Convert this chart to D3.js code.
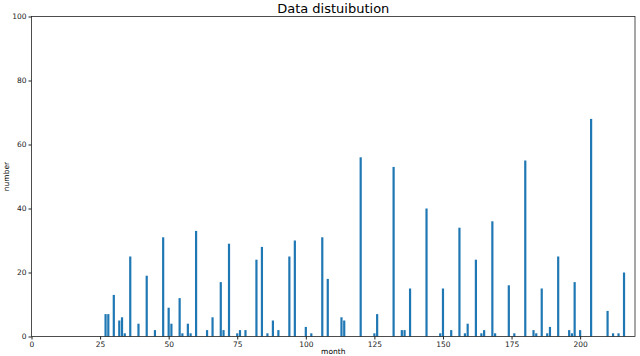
<!DOCTYPE html>
<html lang="en">
<head>
    <meta charset="UTF-8">
    <title>Data distuibution</title>
    <script src="https://d3js.org/d3.v7.min.js"></script>
    <style>
        body { margin: 0; background: #fff; font-family: "DejaVu Sans", sans-serif; }
        .axis text { font-size: 7.5px; fill: #222; font-family: "DejaVu Sans", sans-serif; }
        .axis path, .axis line { stroke: #222; }
    </style>
</head>
<body>
    <svg id="chart" width="640" height="356"></svg>
    <script>
        // bar data
        const months = [27, 28, 30, 32, 33, 34, 36, 39, 42, 45, 48, 50, 51, 54, 55, 57, 58, 60, 64, 66,
            69, 70, 72, 75, 76, 78, 82, 84, 86, 88, 90, 94, 96, 100, 102, 106, 108, 113, 114, 120,
            125, 126, 132, 135, 136, 138, 144, 149, 150, 153, 156, 158, 159, 162, 164, 165, 168, 169, 174, 176,
            180, 183, 184, 186, 188, 189, 192, 196, 197, 198, 200, 204, 210, 212, 214, 216];
        const counts = [7, 7, 13, 5, 6, 1, 25, 4, 19, 2, 31, 9, 4, 12, 1, 4, 1, 33, 2, 6,
            17, 2, 29, 1, 2, 2, 24, 28, 1, 5, 2, 25, 30, 3, 1, 31, 18, 6, 5, 56,
            1, 7, 53, 2, 2, 15, 40, 1, 15, 2, 34, 1, 4, 24, 1, 2, 36, 1, 16, 1,
            55, 2, 1, 15, 1, 3, 25, 2, 1, 17, 2, 68, 8, 1, 1, 20];
        const xTicks = [0, 25, 50, 75, 100, 125, 150, 175, 200];
        const yTicks = [0, 20, 40, 60, 80, 100];

        const margin = { top: 16.5, right: 5, bottom: 19.5, left: 31.5 };
        const width = 640 - margin.left - margin.right;
        const height = 356 - margin.top - margin.bottom;

        const data = months.map((m, i) => ({ month: m, count: counts[i] }));

        const svg = d3.select("#chart");
        const g = svg.append("g")
            .attr("transform", `translate(${margin.left},${margin.top})`);

        const x = d3.scaleLinear().domain([0, 220]).range([0, width]);
        const y = d3.scaleLinear().domain([0, 100]).range([height, 0]);
        const barW = x(0.8) - x(0);

        // barres
        g.selectAll(".bar")
            .data(data)
            .join("rect")
            .attr("class", "bar")
            .attr("x", d => x(d.month) - barW / 2)
            .attr("y", d => y(d.count))
            .attr("width", barW)
            .attr("height", d => y(0) - y(d.count))
            .attr("fill", "#1f77b4");

        // axes
        g.append("g")
            .attr("class", "axis")
            .attr("transform", `translate(0,${height})`)
            .call(d3.axisBottom(x).tickValues(xTicks).tickSize(3).tickPadding(2))
            .call(a => a.select(".domain").remove());

        g.append("g")
            .attr("class", "axis")
            .call(d3.axisLeft(y).tickValues(yTicks).tickSize(3).tickPadding(2))
            .call(a => a.select(".domain").remove());

        // cadre
        g.append("rect")
            .attr("width", width)
            .attr("height", height)
            .attr("fill", "none")
            .attr("stroke", "#222")
            .attr("stroke-width", 0.8);

        // titres
        svg.append("text")
            .attr("x", margin.left + width / 2)
            .attr("y", 12.5)
            .attr("text-anchor", "middle")
            .style("font-size", "13px")
            .text("Data distuibution");

        svg.append("text")
            .attr("x", margin.left + width / 2)
            .attr("y", 354)
            .attr("text-anchor", "middle")
            .style("font-size", "7.5px")
            .text("month");

        svg.append("text")
            .attr("transform", `translate(9,${margin.top + height / 2}) rotate(-90)`)
            .attr("text-anchor", "middle")
            .style("font-size", "7.5px")
            .text("number");
    </script>
</body>
</html>
